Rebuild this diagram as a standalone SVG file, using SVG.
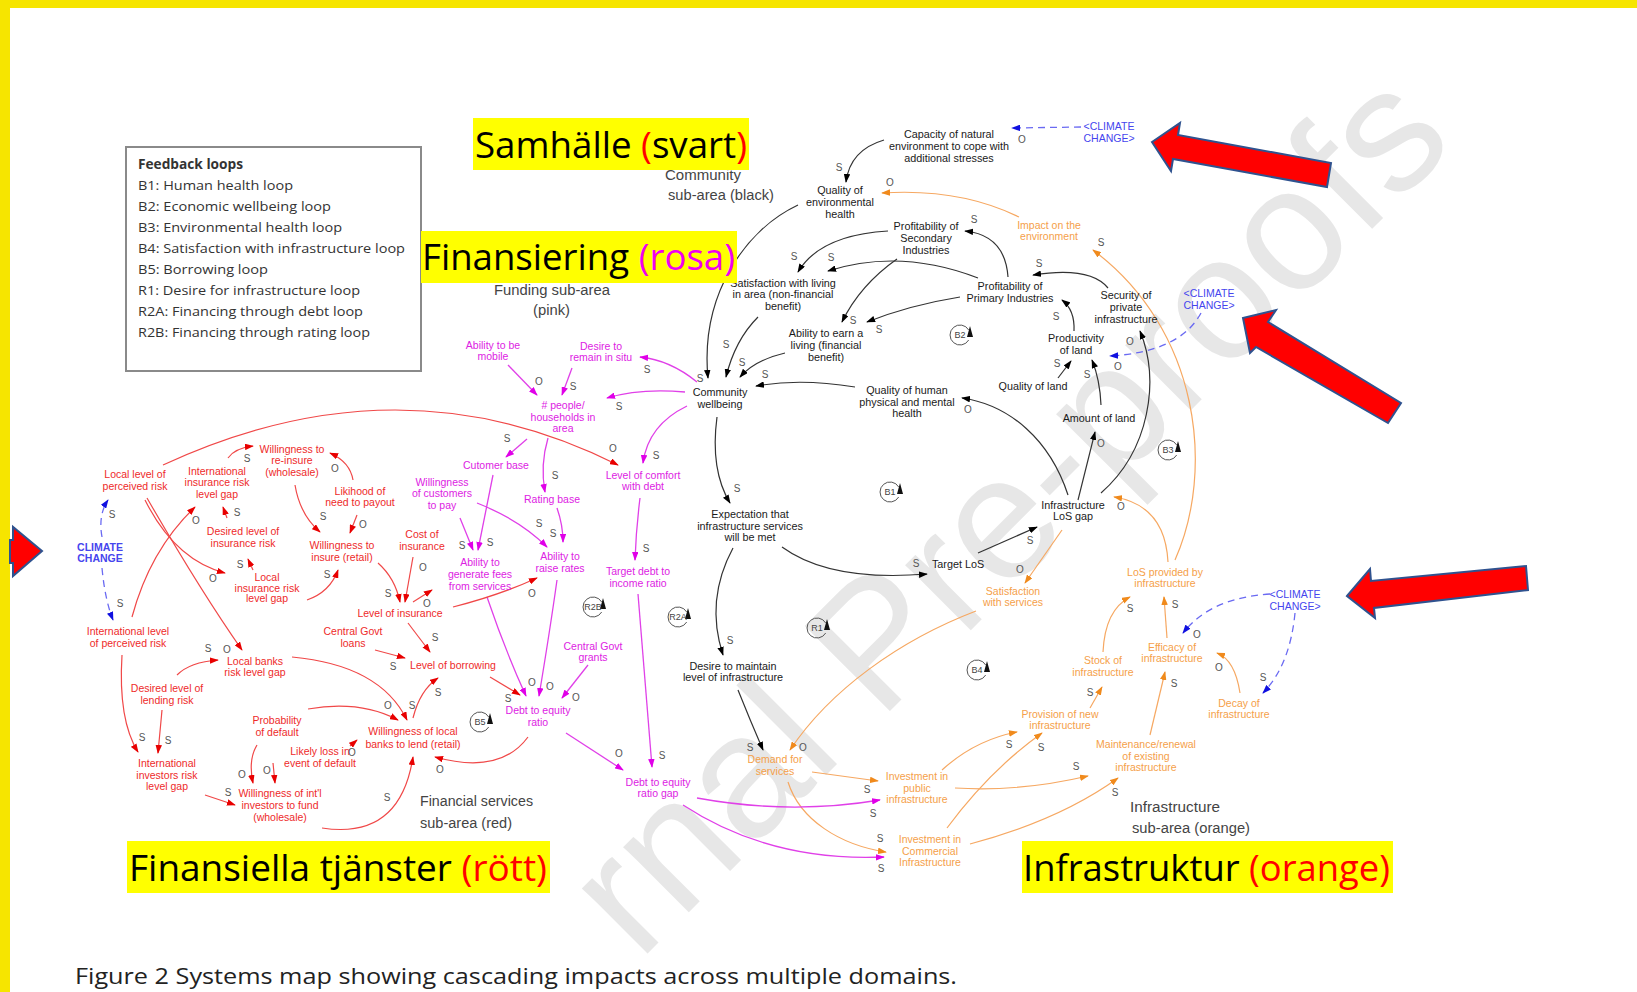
<svg xmlns="http://www.w3.org/2000/svg" width="1637" height="992" viewBox="0 0 1637 992">
<style>
.t{font-family:"Liberation Sans",Arial,sans-serif;text-anchor:middle}
.k{font-size:10.8px;fill:#1a1a1a}
.r{font-size:10.5px;fill:#EE2A2A}
.m{font-size:10.5px;fill:#DD22E3}
.o{font-size:10.5px;fill:#F5A049}
.b{font-size:10.5px;fill:#4545EE}
.p{font-family:"Liberation Sans",Arial,sans-serif;font-size:10px;fill:#555;text-anchor:middle}
.lp{font-family:"Liberation Sans",Arial,sans-serif;font-size:9px;fill:#444;text-anchor:middle}
.ck{fill:none;stroke:#333;stroke-width:1.2;marker-end:url(#ak)}
.cr{fill:none;stroke:#F04848;stroke-width:1.2;marker-end:url(#ar)}
.cm{fill:none;stroke:#E040E8;stroke-width:1.3;marker-end:url(#am)}
.co{fill:none;stroke:#F6A862;stroke-width:1.2;marker-end:url(#ao)}
.cb{fill:none;stroke:#6A6AF2;stroke-width:1.3;stroke-dasharray:7 5;marker-end:url(#ab)}
.sub{font-family:"Liberation Sans",Arial,sans-serif;font-size:14px;fill:#444}
.leg{font-family:"Open Sans","Liberation Sans",sans-serif;font-size:13.5px;fill:#333}
.ttl{font-family:"Open Sans","Liberation Sans",sans-serif;font-size:37px;fill:#000}
.hl{fill:#FFFF00}
.big{fill:#FF0000;stroke:#2F528F;stroke-width:2;stroke-linejoin:miter}
</style>
<defs>
<marker id="ak" viewBox="0 0 10 10" refX="9" refY="5" markerWidth="9" markerHeight="6.5" markerUnits="userSpaceOnUse" orient="auto" preserveAspectRatio="none"><path d="M0,0 L10,5 L0,10 z" fill="#000"/></marker>
<marker id="ar" viewBox="0 0 10 10" refX="9" refY="5" markerWidth="9" markerHeight="6.5" markerUnits="userSpaceOnUse" orient="auto" preserveAspectRatio="none"><path d="M0,0 L10,5 L0,10 z" fill="#E80000"/></marker>
<marker id="am" viewBox="0 0 10 10" refX="9" refY="5" markerWidth="9" markerHeight="6.5" markerUnits="userSpaceOnUse" orient="auto" preserveAspectRatio="none"><path d="M0,0 L10,5 L0,10 z" fill="#E000E8"/></marker>
<marker id="ao" viewBox="0 0 10 10" refX="9" refY="5" markerWidth="9" markerHeight="6.5" markerUnits="userSpaceOnUse" orient="auto" preserveAspectRatio="none"><path d="M0,0 L10,5 L0,10 z" fill="#F08A1C"/></marker>
<marker id="ab" viewBox="0 0 10 10" refX="9" refY="5" markerWidth="9" markerHeight="6.5" markerUnits="userSpaceOnUse" orient="auto" preserveAspectRatio="none"><path d="M0,0 L10,5 L0,10 z" fill="#1010E0"/></marker>
<g id="loopsym"><path d="M 8.7,-5 A 10 10 0 1 0 8.7,5" fill="none" stroke="#555" stroke-width="1"/><path d="M 7,2 L 10,-9 L 13,2 Z" fill="#111"/></g>
</defs>
<rect width="1637" height="992" fill="#fff"/>
<text x="639" y="962" transform="rotate(-45 639 962)" font-family="Liberation Sans,Arial,sans-serif" font-size="175" fill="#E7E7E7">rnal Pre-proofs</text>

<g id="connectors">
<!-- black -->
<path class="ck" d="M 884,140 Q 850,150 846,182"/>
<path class="ck" d="M 798,205 C 745,230 700,295 708,378"/>
<path class="ck" d="M 888,231 Q 820,235 798,272"/>
<path class="ck" d="M 978,278 Q 900,248 828,271"/>
<path class="ck" d="M 897,259 Q 860,285 842,322"/>
<path class="ck" d="M 960,297 Q 910,305 867,322"/>
<path class="ck" d="M 1008,277 Q 1005,235 965,231"/>
<path class="ck" d="M 1108,288 Q 1090,266 1033,275"/>
<path class="ck" d="M 1074,331 Q 1075,310 1062,300"/>
<path class="ck" d="M 1058,378 L 1071,361"/>
<path class="ck" d="M 1101,405 Q 1100,380 1092,360"/>
<path class="ck" d="M 855,387 Q 800,378 756,386"/>
<path class="ck" d="M 758,317 Q 735,340 726,377"/>
<path class="ck" d="M 785,353 Q 755,360 740,377"/>
<path class="ck" d="M 717,417 Q 710,470 730,503"/>
<path class="ck" d="M 782,547 Q 830,582 927,574"/>
<path class="ck" d="M 978,553 L 1037,527"/>
<path class="ck" d="M 1068,495 C 1050,440 1010,405 962,398"/>
<path class="ck" d="M 1078,500 L 1095,432"/>
<path class="ck" d="M 1101,493 C 1150,450 1160,380 1140,331"/>
<path class="ck" d="M 733,548 Q 705,600 723,655"/>
<path class="ck" d="M 738,690 Q 750,720 763,750"/>
<!-- blue dashed -->
<path class="cb" d="M 1081,127 L 1012,128"/>
<path class="cb" d="M 1201,313 Q 1180,352 1110,356"/>
<path class="cb" d="M 1270,594 Q 1210,598 1183,633"/>
<path class="cb" d="M 1295,613 Q 1290,665 1263,693"/>
<path class="cb" d="M 102,537 Q 98,515 108,500"/>
<path class="cb" d="M 102,568 Q 105,600 113,620"/>
<!-- orange -->
<path class="co" d="M 1019,217 Q 960,188 882,193"/>
<path class="co" d="M 1175,560 C 1215,470 1200,330 1093,250"/>
<path class="co" d="M 1168,562 Q 1165,505 1114,497"/>
<path class="co" d="M 1062,530 L 1025,583"/>
<path class="co" d="M 976,611 C 900,640 830,690 790,750"/>
<path class="co" d="M 1167,638 L 1164,597"/>
<path class="co" d="M 1103,652 Q 1105,610 1130,597"/>
<path class="co" d="M 1240,693 Q 1235,660 1217,653"/>
<path class="co" d="M 1090,708 L 1102,687"/>
<path class="co" d="M 1150,735 L 1165,672"/>
<path class="co" d="M 942,770 Q 975,740 1017,732"/>
<path class="co" d="M 955,788 Q 1020,792 1088,776"/>
<path class="co" d="M 947,828 Q 990,770 1042,733"/>
<path class="co" d="M 970,844 Q 1060,820 1118,778"/>
<path class="co" d="M 812,772 L 878,781"/>
<path class="co" d="M 788,782 C 800,820 840,845 886,852"/>
<!-- magenta -->
<path class="cm" d="M 697,798 Q 790,815 880,800"/>
<path class="cm" d="M 683,805 Q 770,862 884,857"/>
<path class="cm" d="M 697,382 Q 670,360 640,357"/>
<path class="cm" d="M 508,365 L 537,395"/>
<path class="cm" d="M 572,368 L 562,395"/>
<path class="cm" d="M 685,392 Q 640,388 607,398"/>
<path class="cm" d="M 687,406 Q 648,425 643,463"/>
<path class="cm" d="M 527,439 L 506,457"/>
<path class="cm" d="M 548,438 Q 540,465 545,492"/>
<path class="cm" d="M 640,498 Q 636,530 635,560"/>
<path class="cm" d="M 460,518 L 473,550"/>
<path class="cm" d="M 493,475 L 478,550"/>
<path class="cm" d="M 477,503 Q 520,520 547,547"/>
<path class="cm" d="M 557,508 Q 563,525 563,542"/>
<path class="cm" d="M 487,597 Q 505,650 526,696"/>
<path class="cm" d="M 557,580 Q 550,630 539,696"/>
<path class="cm" d="M 638,594 L 652,767"/>
<path class="cm" d="M 588,665 L 562,698"/>
<path class="cm" d="M 566,733 L 623,770"/>
<!-- red -->
<path class="cr" d="M 163,465 Q 400,355 618,465"/>
<path class="cr" d="M 228,458 Q 235,448 253,446"/>
<path class="cr" d="M 353,480 Q 350,462 330,453"/>
<path class="cr" d="M 357,515 L 350,533"/>
<path class="cr" d="M 295,485 Q 300,515 320,532"/>
<path class="cr" d="M 227,518 L 223,507"/>
<path class="cr" d="M 132,617 Q 150,550 195,507"/>
<path class="cr" d="M 145,500 Q 175,560 225,573"/>
<path class="cr" d="M 147,498 Q 200,590 242,650"/>
<path class="cr" d="M 253,570 L 248,559"/>
<path class="cr" d="M 307,600 Q 330,592 338,570"/>
<path class="cr" d="M 413,557 L 405,602"/>
<path class="cr" d="M 378,563 Q 395,578 400,602"/>
<path class="cr" d="M 413,602 L 432,590"/>
<path class="cr" d="M 453,607 Q 500,595 537,578"/>
<path class="cr" d="M 408,623 L 430,652"/>
<path class="cr" d="M 375,650 L 405,658"/>
<path class="cr" d="M 177,675 Q 190,662 218,660"/>
<path class="cr" d="M 162,710 L 158,753"/>
<path class="cr" d="M 122,655 Q 118,720 138,752"/>
<path class="cr" d="M 205,795 L 235,805"/>
<path class="cr" d="M 257,745 Q 248,760 253,783"/>
<path class="cr" d="M 308,709 Q 360,700 398,720"/>
<path class="cr" d="M 273,763 L 275,783"/>
<path class="cr" d="M 350,746 L 357,740"/>
<path class="cr" d="M 292,657 Q 380,665 407,720"/>
<path class="cr" d="M 413,718 Q 420,690 438,678"/>
<path class="cr" d="M 490,677 L 520,695"/>
<path class="cr" d="M 322,828 Q 400,840 413,757"/>
<path class="cr" d="M 528,737 Q 500,775 435,757"/>
</g>

<!-- black nodes -->
<g id="n_capacity" class="t k"><text><tspan x="949" y="138">Capacity of natural</tspan><tspan x="949" y="150">environment to cope with</tspan><tspan x="949" y="162">additional stresses</tspan></text></g>
<g id="n_qenv" class="t k"><text><tspan x="840" y="194">Quality of</tspan><tspan x="840" y="206">environmental</tspan><tspan x="840" y="218">health</tspan></text></g>
<g id="n_profsec" class="t k"><text><tspan x="926" y="230">Profitability of</tspan><tspan x="926" y="242">Secondary</tspan><tspan x="926" y="254">Industries</tspan></text></g>
<g id="n_satliv" class="t k"><text><tspan x="783" y="287">Satisfaction with living</tspan><tspan x="783" y="298">in area (non-financial</tspan><tspan x="783" y="310">benefit)</tspan></text></g>
<g id="n_earn" class="t k"><text><tspan x="826" y="337">Ability to earn a</tspan><tspan x="826" y="349">living (financial</tspan><tspan x="826" y="361">benefit)</tspan></text></g>
<g id="n_profprim" class="t k"><text><tspan x="1010" y="290">Profitability of</tspan><tspan x="1010" y="302">Primary Industries</tspan></text></g>
<g id="n_security" class="t k"><text><tspan x="1126" y="299">Security of</tspan><tspan x="1126" y="311">private</tspan><tspan x="1126" y="323">infrastructure</tspan></text></g>
<g id="n_productivity" class="t k"><text><tspan x="1076" y="342">Productivity</tspan><tspan x="1076" y="354">of land</tspan></text></g>
<g id="n_qland" class="t k"><text x="1033" y="390">Quality of land</text></g>
<g id="n_amount" class="t k"><text x="1099" y="422">Amount of land</text></g>
<g id="n_qhuman" class="t k"><text><tspan x="907" y="394">Quality of human</tspan><tspan x="907" y="406">physical and mental</tspan><tspan x="907" y="417">health</tspan></text></g>
<g id="n_cw" class="t k"><text><tspan x="720" y="396">Community</tspan><tspan x="720" y="408">wellbeing</tspan></text></g>
<g id="n_expect" class="t k"><text><tspan x="750" y="518">Expectation that</tspan><tspan x="750" y="530">infrastructure services</tspan><tspan x="750" y="541">will be met</tspan></text></g>
<g id="n_target" class="t k"><text x="958" y="568">Target LoS</text></g>
<g id="n_losgap" class="t k"><text><tspan x="1073" y="509">Infrastructure</tspan><tspan x="1073" y="520">LoS gap</tspan></text></g>
<g id="n_desire" class="t k"><text><tspan x="733" y="670">Desire to maintain</tspan><tspan x="733" y="681">level of infrastructure</tspan></text></g>

<!-- blue climate nodes -->
<g id="n_cc1" class="t b"><text><tspan x="1109" y="130">&lt;CLIMATE</tspan><tspan x="1109" y="142">CHANGE&gt;</tspan></text></g>
<g id="n_cc2" class="t b"><text><tspan x="1209" y="297">&lt;CLIMATE</tspan><tspan x="1209" y="309">CHANGE&gt;</tspan></text></g>
<g id="n_cc3" class="t b"><text><tspan x="1295" y="598">&lt;CLIMATE</tspan><tspan x="1295" y="610">CHANGE&gt;</tspan></text></g>
<g id="n_cc4" class="t b" font-weight="bold"><text><tspan x="100" y="551">CLIMATE</tspan><tspan x="100" y="562">CHANGE</tspan></text></g>

<!-- orange nodes -->
<g id="n_impact" class="t o"><text><tspan x="1049" y="229">Impact on the</tspan><tspan x="1049" y="240">environment</tspan></text></g>
<g id="n_satserv" class="t o"><text><tspan x="1013" y="595">Satisfaction</tspan><tspan x="1013" y="606">with services</tspan></text></g>
<g id="n_losprov" class="t o"><text><tspan x="1165" y="576">LoS provided by</tspan><tspan x="1165" y="587">infrastructure</tspan></text></g>
<g id="n_efficacy" class="t o"><text><tspan x="1172" y="651">Efficacy of</tspan><tspan x="1172" y="662">infrastructure</tspan></text></g>
<g id="n_stock" class="t o"><text><tspan x="1103" y="664">Stock of</tspan><tspan x="1103" y="676">infrastructure</tspan></text></g>
<g id="n_decay" class="t o"><text><tspan x="1239" y="707">Decay of</tspan><tspan x="1239" y="718">infrastructure</tspan></text></g>
<g id="n_provision" class="t o"><text><tspan x="1060" y="718">Provision of new</tspan><tspan x="1060" y="729">infrastructure</tspan></text></g>
<g id="n_maint" class="t o"><text><tspan x="1146" y="748">Maintenance/renewal</tspan><tspan x="1146" y="760">of existing</tspan><tspan x="1146" y="771">infrastructure</tspan></text></g>
<g id="n_invpub" class="t o"><text><tspan x="917" y="780">Investment in</tspan><tspan x="917" y="792">public</tspan><tspan x="917" y="803">infrastructure</tspan></text></g>
<g id="n_invcom" class="t o"><text><tspan x="930" y="843">Investment in</tspan><tspan x="930" y="855">Commercial</tspan><tspan x="930" y="866">Infrastructure</tspan></text></g>
<g id="n_demand" class="t o"><text><tspan x="775" y="763">Demand for</tspan><tspan x="775" y="775">services</tspan></text></g>

<!-- magenta nodes -->
<g id="n_mobile" class="t m"><text><tspan x="493" y="349">Ability to be</tspan><tspan x="493" y="360">mobile</tspan></text></g>
<g id="n_situ" class="t m"><text><tspan x="601" y="350">Desire to</tspan><tspan x="601" y="361">remain in situ</tspan></text></g>
<g id="n_people" class="t m"><text><tspan x="563" y="409"># people/</tspan><tspan x="563" y="421">households in</tspan><tspan x="563" y="432">area</tspan></text></g>
<g id="n_custbase" class="t m"><text x="496" y="469">Cutomer base</text></g>
<g id="n_ratebase" class="t m"><text x="552" y="503">Rating base</text></g>
<g id="n_comfort" class="t m"><text><tspan x="643" y="479">Level of comfort</tspan><tspan x="643" y="490">with debt</tspan></text></g>
<g id="n_targetdebt" class="t m"><text><tspan x="638" y="575">Target debt to</tspan><tspan x="638" y="587">income ratio</tspan></text></g>
<g id="n_willcust" class="t m"><text><tspan x="442" y="486">Willingness</tspan><tspan x="442" y="497">of customers</tspan><tspan x="442" y="509">to pay</tspan></text></g>
<g id="n_fees" class="t m"><text><tspan x="480" y="566">Ability to</tspan><tspan x="480" y="578">generate fees</tspan><tspan x="480" y="590">from services</tspan></text></g>
<g id="n_rates" class="t m"><text><tspan x="560" y="560">Ability to</tspan><tspan x="560" y="572">raise rates</tspan></text></g>
<g id="n_grants" class="t m"><text><tspan x="593" y="650">Central Govt</tspan><tspan x="593" y="661">grants</tspan></text></g>
<g id="n_de" class="t m"><text><tspan x="538" y="714">Debt to equity</tspan><tspan x="538" y="726">ratio</tspan></text></g>
<g id="n_degap" class="t m"><text><tspan x="658" y="786">Debt to equity</tspan><tspan x="658" y="797">ratio gap</tspan></text></g>

<!-- red nodes -->
<g id="n_localrisk" class="t r"><text><tspan x="135" y="478">Local level of</tspan><tspan x="135" y="490">perceived risk</tspan></text></g>
<g id="n_intlinsgap" class="t r"><text><tspan x="217" y="475">International</tspan><tspan x="217" y="486">insurance risk</tspan><tspan x="217" y="498">level gap</tspan></text></g>
<g id="n_reinsure" class="t r"><text><tspan x="292" y="453">Willingness to</tspan><tspan x="292" y="464">re-insure</tspan><tspan x="292" y="476">(wholesale)</tspan></text></g>
<g id="n_likelihood" class="t r"><text><tspan x="360" y="495">Likihood of</tspan><tspan x="360" y="506">need to payout</tspan></text></g>
<g id="n_desins" class="t r"><text><tspan x="243" y="535">Desired level of</tspan><tspan x="243" y="547">insurance risk</tspan></text></g>
<g id="n_localinsgap" class="t r"><text><tspan x="267" y="581">Local</tspan><tspan x="267" y="592">insurance risk</tspan><tspan x="267" y="602">level gap</tspan></text></g>
<g id="n_insure" class="t r"><text><tspan x="342" y="549">Willingness to</tspan><tspan x="342" y="561">insure (retail)</tspan></text></g>
<g id="n_cost" class="t r"><text><tspan x="422" y="538">Cost of</tspan><tspan x="422" y="550">insurance</tspan></text></g>
<g id="n_levins" class="t r"><text x="400" y="617">Level of insurance</text></g>
<g id="n_intlrisk" class="t r"><text><tspan x="128" y="635">International level</tspan><tspan x="128" y="647">of perceived risk</tspan></text></g>
<g id="n_loans" class="t r"><text><tspan x="353" y="635">Central Govt</tspan><tspan x="353" y="647">loans</tspan></text></g>
<g id="n_borrow" class="t r"><text x="453" y="669">Level of borrowing</text></g>
<g id="n_banksgap" class="t r"><text><tspan x="255" y="665">Local banks</tspan><tspan x="255" y="676">risk level gap</tspan></text></g>
<g id="n_deslend" class="t r"><text><tspan x="167" y="692">Desired level of</tspan><tspan x="167" y="704">lending risk</tspan></text></g>
<g id="n_invgap" class="t r"><text><tspan x="167" y="767">International</tspan><tspan x="167" y="779">investors risk</tspan><tspan x="167" y="790">level gap</tspan></text></g>
<g id="n_willintl" class="t r"><text><tspan x="280" y="797">Willingness of int'l</tspan><tspan x="280" y="809">investors to fund</tspan><tspan x="280" y="821">(wholesale)</tspan></text></g>
<g id="n_prob" class="t r"><text><tspan x="277" y="724">Probability</tspan><tspan x="277" y="736">of default</tspan></text></g>
<g id="n_loss" class="t r"><text><tspan x="320" y="755">Likely loss in</tspan><tspan x="320" y="767">event of default</tspan></text></g>
<g id="n_willlocal" class="t r"><text><tspan x="413" y="735">Willingness of local</tspan><tspan x="413" y="748">banks to lend (retail)</tspan></text></g>

<g id="polarity" class="p">
<text x="1022" y="143">O</text><text x="839" y="171">S</text><text x="890" y="186">O</text><text x="974" y="223">S</text>
<text x="794" y="260">S</text><text x="831" y="261">S</text><text x="853" y="324">S</text><text x="879" y="333">S</text>
<text x="1039" y="267">S</text><text x="1101" y="246">S</text><text x="1056" y="320">S</text><text x="1130" y="345">O</text>
<text x="1118" y="370">O</text><text x="1057" y="367">S</text><text x="1087" y="378">S</text><text x="726" y="348">S</text>
<text x="742" y="366">S</text><text x="700" y="382">S</text><text x="765" y="378">S</text><text x="968" y="413">O</text>
<text x="737" y="492">S</text><text x="916" y="567">S</text><text x="1030" y="544">S</text><text x="1121" y="510">O</text>
<text x="1101" y="447">O</text><text x="1020" y="573">O</text><text x="730" y="644">S</text><text x="750" y="751">S</text>
<text x="803" y="751">O</text><text x="1175" y="608">S</text><text x="1130" y="612">S</text><text x="1197" y="638">O</text>
<text x="1219" y="671">O</text><text x="1263" y="681">S</text><text x="1090" y="696">S</text><text x="1174" y="687">S</text>
<text x="1009" y="748">S</text><text x="1076" y="770">S</text><text x="1041" y="751">S</text><text x="1115" y="796">S</text>
<text x="867" y="793">S</text><text x="873" y="817">S</text><text x="880" y="842">S</text><text x="881" y="872">S</text>
<text x="647" y="373">S</text><text x="539" y="385">O</text><text x="573" y="390">S</text><text x="619" y="410">S</text>
<text x="656" y="459">S</text><text x="507" y="442">S</text><text x="555" y="479">S</text><text x="613" y="452">O</text>
<text x="646" y="552">S</text><text x="462" y="549">S</text><text x="490" y="546">S</text><text x="539" y="527">S</text>
<text x="553" y="537">S</text><text x="532" y="597">O</text><text x="532" y="686">O</text><text x="550" y="690">O</text>
<text x="508" y="702">S</text><text x="576" y="701">O</text><text x="619" y="757">O</text><text x="662" y="759">S</text>
<text x="247" y="462">S</text><text x="335" y="472">O</text><text x="363" y="528">O</text><text x="323" y="520">S</text>
<text x="237" y="516">S</text><text x="196" y="524">O</text><text x="213" y="582">O</text><text x="227" y="653">O</text>
<text x="240" y="568">S</text><text x="327" y="578">S</text><text x="423" y="571">O</text><text x="388" y="597">S</text>
<text x="427" y="607">O</text><text x="435" y="641">S</text><text x="393" y="670">S</text><text x="112" y="518">S</text>
<text x="120" y="607">S</text><text x="208" y="652">S</text><text x="168" y="744">S</text><text x="142" y="741">S</text>
<text x="228" y="796">S</text><text x="242" y="778">O</text><text x="388" y="709">O</text><text x="412" y="709">S</text>
<text x="267" y="774">O</text><text x="352" y="756">O</text><text x="438" y="696">S</text><text x="387" y="801">S</text>
<text x="440" y="773">O</text>
</g>

<g id="loops">
<use href="#loopsym" x="960" y="335"/><text class="lp" x="960" y="338">B2</text>
<use href="#loopsym" x="890" y="492"/><text class="lp" x="890" y="495">B1</text>
<use href="#loopsym" x="817" y="628"/><text class="lp" x="817" y="631">R1</text>
<use href="#loopsym" x="977" y="670"/><text class="lp" x="977" y="673">B4</text>
<use href="#loopsym" x="1168" y="450"/><text class="lp" x="1168" y="453">B3</text>
<use href="#loopsym" x="593" y="607"/><text class="lp" x="593" y="610">R2B</text>
<use href="#loopsym" x="678" y="617"/><text class="lp" x="678" y="620">R2A</text>
<use href="#loopsym" x="480" y="722"/><text class="lp" x="480" y="725">B5</text>
</g>

<g id="legend">
<rect x="126" y="147" width="295" height="224" fill="#fff" stroke="#8a8a8a" stroke-width="2"/>
<text class="leg" x="138" y="169" font-weight="bold" textLength="105" lengthAdjust="spacingAndGlyphs">Feedback loops</text>
<text class="leg" x="138" y="190" textLength="155" lengthAdjust="spacingAndGlyphs">B1: Human health loop</text>
<text class="leg" x="138" y="211" textLength="193" lengthAdjust="spacingAndGlyphs">B2: Economic wellbeing loop</text>
<text class="leg" x="138" y="232" textLength="204" lengthAdjust="spacingAndGlyphs">B3: Environmental health loop</text>
<text class="leg" x="138" y="253" textLength="267" lengthAdjust="spacingAndGlyphs">B4: Satisfaction with infrastructure loop</text>
<text class="leg" x="138" y="274" textLength="130" lengthAdjust="spacingAndGlyphs">B5: Borrowing loop</text>
<text class="leg" x="138" y="295" textLength="222" lengthAdjust="spacingAndGlyphs">R1: Desire for infrastructure loop</text>
<text class="leg" x="138" y="316" textLength="225" lengthAdjust="spacingAndGlyphs">R2A: Financing through debt loop</text>
<text class="leg" x="138" y="337" textLength="232" lengthAdjust="spacingAndGlyphs">R2B: Financing through rating loop</text>
</g>

<g id="subareas" class="sub">
<text x="665" y="180" textLength="76" lengthAdjust="spacingAndGlyphs">Community</text>
<text x="668" y="200" textLength="106" lengthAdjust="spacingAndGlyphs">sub-area (black)</text>
<text x="494" y="295" textLength="116" lengthAdjust="spacingAndGlyphs">Funding  sub-area</text>
<text x="533" y="315" textLength="37" lengthAdjust="spacingAndGlyphs">(pink)</text>
<text x="420" y="806" textLength="113" lengthAdjust="spacingAndGlyphs">Financial services</text>
<text x="420" y="828" textLength="92" lengthAdjust="spacingAndGlyphs">sub-area (red)</text>
<text x="1130" y="812" textLength="90" lengthAdjust="spacingAndGlyphs">Infrastructure</text>
<text x="1132" y="833" textLength="118" lengthAdjust="spacingAndGlyphs">sub-area (orange)</text>
</g>

<g id="titles">
<rect class="hl" x="473" y="118" width="276" height="52"/>
<text class="ttl" x="475" y="158" textLength="272" lengthAdjust="spacingAndGlyphs">Samhälle <tspan fill="#FF0000">(</tspan>svart<tspan fill="#FF0000">)</tspan></text>
<rect class="hl" x="421" y="231" width="316" height="52"/>
<text class="ttl" x="422" y="270" textLength="313" lengthAdjust="spacingAndGlyphs">Finansiering <tspan fill="#F000F0">(rosa)</tspan></text>
<rect class="hl" x="127" y="841" width="423" height="52"/>
<text class="ttl" x="129" y="881" textLength="418" lengthAdjust="spacingAndGlyphs">Finansiella tjänster <tspan fill="#FF0000">(rött)</tspan></text>
<rect class="hl" x="1022" y="841" width="371" height="52"/>
<text class="ttl" x="1023" y="881" textLength="367" lengthAdjust="spacingAndGlyphs">Infrastruktur <tspan fill="#FF0000">(orange)</tspan></text>
</g>

<g id="border">
<rect x="0" y="0" width="1637" height="8" fill="#F6E500"/>
<rect x="0" y="0" width="10" height="992" fill="#F6E500"/>
</g>

<g id="bigarrows">
<polygon class="big" points="1152,142 1180,123 1178,135 1331,163 1327,187 1173,159 1171,171"/>
<polygon class="big" points="1243,318 1276,310 1268,322 1401,403 1388,423 1256,347 1250,353"/>
<polygon class="big" points="1347,596 1370,569 1371,581 1526,566 1528,590 1374,608 1375,618"/>
<polygon class="big" points="10,540 13,540 13,527 42,551 13,576 13,563 10,563"/>
</g>

<text x="75" y="984" font-family="Open Sans,Liberation Sans,sans-serif" font-size="22" fill="#222" textLength="882" lengthAdjust="spacingAndGlyphs">Figure 2 Systems map showing cascading impacts across multiple domains.</text>
</svg>
